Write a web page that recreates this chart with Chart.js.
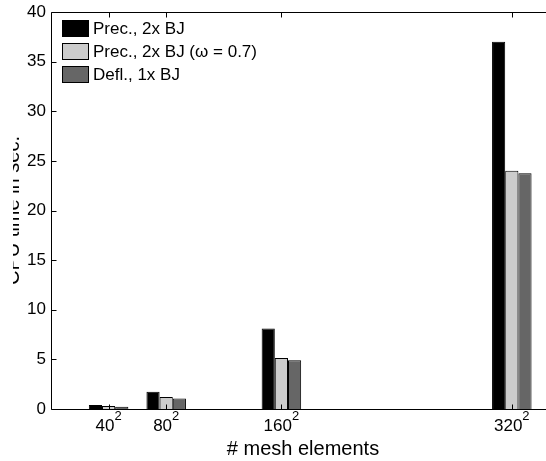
<!DOCTYPE html>
<html><head><meta charset="utf-8">
<script src="https://cdn.jsdelivr.net/npm/chart.js@4.4.0/dist/chart.umd.min.js"></script>
<style>
html,body{margin:0;padding:0;background:#fff;width:546px;height:461px;overflow:hidden}
#clip{position:absolute;left:13px;top:0;width:533px;height:461px;overflow:hidden}
#holder{position:absolute;left:-33px;top:0;width:600px;height:461px}
</style></head><body>
<div id="clip"><div id="holder"><canvas id="c" width="600" height="461"></canvas></div></div>
<script>
// ---- data ----
const categories = [40, 80, 160, 320];
const xTickLabels = ['40', '80', '160', '320'];
const xTickExponent = '2';
const seriesNames = ['Prec., 2x BJ', 'Prec., 2x BJ (\u03c9 = 0.7)', 'Defl., 1x BJ'];
const precValues = [0.4, 1.75, 8.1, 37.0];
const precOmegaValues = [0.3, 1.2, 5.15, 24.0];
const deflValues = [0.22, 1.05, 4.9, 23.75];
const seriesColors = ['#000000', '#cccccc', '#666666'];
const yTicks = [0, 5, 10, 15, 20, 25, 30, 35, 40];

const FONT = '"Liberation Sans", Arial, Helvetica, sans-serif';

const framePlugin = {
  id: 'frame',
  afterDatasetsDraw(chart) {
    const {ctx, chartArea: a, scales: {x, y}} = chart;
    const L = Math.round(a.left) + 0.5, R = Math.round(a.right) + 0.5;
    const T = Math.round(a.top) + 0.5, B = Math.round(a.bottom) + 0.5;
    ctx.save();
    ctx.strokeStyle = '#000';
    ctx.lineWidth = 1;
    ctx.beginPath();
    ctx.moveTo(L, T); ctx.lineTo(R, T); ctx.lineTo(R, B); ctx.lineTo(L, B); ctx.closePath();
    yTicks.forEach(v => {
      const py = Math.round(y.getPixelForValue(v)) + 0.5;
      ctx.moveTo(L, py); ctx.lineTo(L + 5, py);
      ctx.moveTo(R, py); ctx.lineTo(R - 5, py);
    });
    categories.forEach(v => {
      const px = Math.round(x.getPixelForValue(v)) + 0.5;
      ctx.moveTo(px, B); ctx.lineTo(px, B - 5);
      ctx.moveTo(px, T); ctx.lineTo(px, T + 5);
    });
    ctx.stroke();
    ctx.fillStyle = '#000';
    ctx.textBaseline = 'alphabetic';
    ctx.textAlign = 'left';
    categories.forEach((v, i) => {
      const cx = x.getPixelForValue(v);
      ctx.font = '17px ' + FONT;
      const w1 = ctx.measureText(xTickLabels[i]).width;
      ctx.font = '13px ' + FONT;
      const w2 = ctx.measureText(xTickExponent).width;
      const sx = cx - (w1 + w2) / 2;
      ctx.font = '17px ' + FONT;
      ctx.fillText(xTickLabels[i], sx, 431);
      ctx.font = '13px ' + FONT;
      ctx.fillText(xTickExponent, sx + w1, 420);
    });
    ctx.restore();
  },
  afterDraw(chart) {
    const {ctx} = chart;
    ctx.save();
    ctx.font = '17px ' + FONT;
    ctx.textBaseline = 'middle';
    ctx.textAlign = 'left';
    chart.data.datasets.forEach((ds, i) => {
      const top = 20 + i * 23;
      ctx.fillStyle = ds.backgroundColor;
      ctx.fillRect(82, top, 27, 17);
      ctx.strokeStyle = '#000';
      ctx.lineWidth = 1;
      ctx.strokeRect(82.5, top + 0.5, 26, 16);
      ctx.fillStyle = '#000';
      ctx.fillText(ds.label, 113, top + 9);
    });
    ctx.restore();
  }
};

const seriesValues = [precValues, precOmegaValues, deflValues];

new Chart(document.getElementById('c'), {
  type: 'bar',
  data: {
    datasets: seriesValues.map((vals, k) => ({
      label: seriesNames[k],
      data: categories.map((c, i) => ({x: c, y: vals[i]})),
      backgroundColor: seriesColors[k],
      borderColor: '#000',
      borderWidth: 1,
      borderSkipped: 'start',
      categoryPercentage: 0.686,
      barPercentage: 1
    }))
  },
  options: {
    responsive: false,
    animation: false,
    devicePixelRatio: 1,
    layout: {padding: {top: 12, right: 25, bottom: 0, left: 0}},
    plugins: {legend: {display: false}, tooltip: {enabled: false}},
    scales: {
      x: {
        type: 'linear', min: 0, max: 350, offset: false,
        grid: {display: false, drawTicks: false}, border: {display: false},
        ticks: {display: false},
        afterBuildTicks: s => { s.ticks = categories.map(v => ({value: v})); },
        afterFit: s => { s.height = 52; s.paddingLeft = 0; s.paddingRight = 0; },
        title: {display: true, text: '# mesh elements', color: '#000',
                font: {family: FONT, size: 20}, padding: {top: 0, bottom: 0}}
      },
      y: {
        min: 0, max: 40,
        grid: {display: false, drawTicks: false}, border: {display: false},
        afterBuildTicks: s => { s.ticks = yTicks.map(v => ({value: v})); },
        ticks: {color: '#000', font: {family: FONT, size: 17}, padding: 5},
        afterFit: s => { s.width = 71; s.paddingTop = 0; s.paddingBottom = 0; },
        title: {display: true, text: 'CPU time in sec.', color: '#000',
                font: {family: FONT, size: 20}, padding: {top: 21, bottom: 0}}
      }
    }
  },
  plugins: [framePlugin]
});
</script>
</body></html>
